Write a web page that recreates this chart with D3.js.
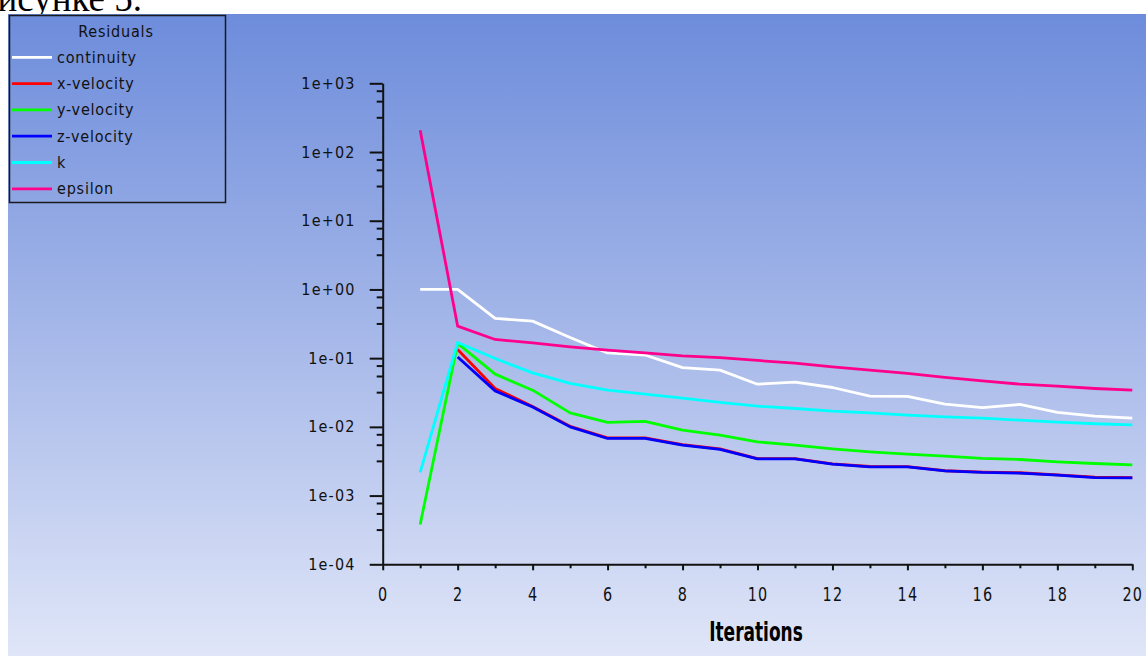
<!DOCTYPE html>
<html lang="ru">
<head>
    <meta charset="UTF-8">
    <title>Residuals</title>
    <script src="https://cdnjs.cloudflare.com/ajax/libs/d3/7.8.5/d3.min.js"></script>
<style>
    body { margin: 0; background: #ffffff; }
    svg { display: block; }
    .narrow { font-family: "Liberation Sans Narrow", "Arial Narrow", "DejaVu Sans Condensed", sans-serif; }
</style>
</head>
<body>
<div id="chart"></div>
<script>

    var width = 1146,
        height = 657;

    // iteration numbers on the x axis
    var iterations = [1,2,3,4,5,6,7,8,9,10,11,12,13,14,15,16,17,18,19,20];

    // residual values (null = not drawn)
    var continuity = [1.0, 1.0, 0.378, 0.346, 0.200, 0.119, 0.111, 0.073, 0.0669, 0.0418,
        0.0448, 0.0374, 0.028, 0.0277, 0.0214, 0.0191, 0.0212, 0.0162, 0.0143, 0.0134];
    var xVelocity = [null, 0.134, 0.0362, 0.0198, 0.0102, 0.0069, 0.0069, 0.0055, 0.0048, 0.00346,
        0.00346, 0.0029, 0.00265, 0.00264, 0.0023, 0.0022, 0.00215, 0.002, 0.00185, 0.00182];
    var yVelocity = [0.00038, 0.164, 0.0585, 0.0342, 0.016, 0.0116, 0.012, 0.00895, 0.00757, 0.00605,
        0.00542, 0.00479, 0.00433, 0.00401, 0.00375, 0.00347, 0.00335, 0.0031, 0.00293, 0.0028];
    var zVelocity = [null, 0.104, 0.0334, 0.0195, 0.0100, 0.00678, 0.00678, 0.00542, 0.00469, 0.00342,
        0.00342, 0.00286, 0.00262, 0.00262, 0.00229, 0.00217, 0.00212, 0.00198, 0.00183, 0.00181];
    var kRes = [0.00217, 0.169, 0.099, 0.061, 0.0429, 0.0342, 0.0299, 0.0262, 0.0227, 0.02,
        0.0185, 0.0169, 0.016, 0.0148, 0.014, 0.0134, 0.0125, 0.0117, 0.0111, 0.0107];
    var epsilon = [208, 0.292, 0.187, 0.167, 0.146, 0.131, 0.119, 0.108, 0.102, 0.0926,
        0.0845, 0.0747, 0.0669, 0.0599, 0.0524, 0.0468, 0.0418, 0.0391, 0.0362, 0.0342];

    var seriesNames = ["continuity", "x-velocity", "y-velocity", "z-velocity", "k", "epsilon"];
    var seriesColors = ["#ffffff", "#ff0000", "#00ff00", "#0000ff", "#00ffff", "#ff008c"];
    var seriesValues = [continuity, xVelocity, yVelocity, zVelocity, kRes, epsilon];

    // tick values and labels
    var yMajor = [1e-4, 1e-3, 1e-2, 1e-1, 1, 10, 100, 1000];
    var yLabels = ["1e-04", "1e-03", "1e-02", "1e-01", "1e+00", "1e+01", "1e+02", "1e+03"];
    var yMinorFactors = [0.78, 0.55, 0.32];
    var xMajor = [0, 2, 4, 6, 8, 10, 12, 14, 16, 18, 20];
    var xMinor = [1, 3, 5, 7, 9, 11, 13, 15, 17, 19];

    var svg = d3.select("#chart")
        .append("svg")
        .attr("width", width)
        .attr("height", height);

    // caption text of the page above, mostly hidden
    svg.append("text")
        .attr("x", -21)
        .attr("y", 11)
        .style("font-family", "'Liberation Serif', 'Times New Roman', serif")
        .style("font-size", "37px")
        .attr("fill", "#000")
        .text("рисунке 5.");

    // background gradient
    var defs = svg.append("defs");
    var grad = defs.append("linearGradient")
        .attr("id", "bg")
        .attr("x1", 0).attr("y1", 0)
        .attr("x2", 0).attr("y2", 1);
    grad.append("stop").attr("offset", "0%").attr("stop-color", "#6d8cdb");
    grad.append("stop").attr("offset", "50%").attr("stop-color", "#a6b8e9");
    grad.append("stop").attr("offset", "100%").attr("stop-color", "#e0e6f8");

    svg.append("rect")
        .attr("x", 8)
        .attr("y", 14)
        .attr("width", width - 8)
        .attr("height", height - 15)
        .attr("fill", "url(#bg)");

    var x = d3.scaleLinear().domain([0, 20]).range([382.7, 1132.3]);
    var y = d3.scaleLog().domain([1e-4, 1e3]).range([564.3, 83.3]);

    var yMinor = [];
    yMajor.forEach(function(m) {
        if (m > 1e-4) {
            yMinorFactors.forEach(function(f) { yMinor.push(m * f); });
        }
    });

    // y axis
    var yAxisG = svg.append("g")
        .attr("class", "narrow")
        .attr("transform", "translate(" + x(0) + ",0)")
        .call(d3.axisLeft(y)
            .tickValues(yMajor)
            .tickSize(13)
            .tickSizeOuter(0)
            .tickPadding(14)
            .tickFormat(function(d, i) { return yLabels[i]; }));

    svg.append("g")
        .attr("transform", "translate(" + x(0) + ",0)")
        .call(d3.axisLeft(y)
            .tickValues(yMinor)
            .tickSize(6)
            .tickSizeOuter(0)
            .tickFormat(""))
        .select(".domain").remove();

    // x axis
    var xAxisG = svg.append("g")
        .attr("class", "narrow")
        .attr("transform", "translate(0," + y(1e-4) + ")")
        .call(d3.axisBottom(x)
            .tickValues(xMajor)
            .tickSize(6)
            .tickSizeOuter(0)
            .tickPadding(17));

    svg.append("g")
        .attr("transform", "translate(0," + y(1e-4) + ")")
        .call(d3.axisBottom(x)
            .tickValues(xMinor)
            .tickSize(4)
            .tickSizeOuter(0)
            .tickFormat(""))
        .select(".domain").remove();

    svg.selectAll(".domain, .tick line")
        .attr("stroke", "#111")
        .attr("stroke-width", 2);

    yAxisG.selectAll("text")
        .attr("fill", "#111")
        .style("font-size", "16px")
        .style("letter-spacing", "1.2px");

    // narrow, tall digits like the solver's plot font
    xAxisG.selectAll("text")
        .attr("fill", "#111")
        .attr("transform", "scale(0.8,1)")
        .style("font-size", "20px")
        .style("letter-spacing", "1.5px");

    svg.append("text")
        .attr("class", "narrow")
        .attr("transform", "translate(756,641) scale(0.7,1)")
        .attr("text-anchor", "middle")
        .style("font-size", "27px")
        .style("font-weight", "bold")
        .attr("fill", "#000")
        .text("Iterations");

    // residual lines
    var line = d3.line()
        .defined(function(d) { return d != null; })
        .x(function(d, i) { return x(iterations[i]); })
        .y(function(d) { return y(d); });

    svg.selectAll(".res")
        .data(seriesValues)
        .enter()
        .append("path")
        .attr("class", "res")
        .attr("d", line)
        .attr("fill", "none")
        .attr("stroke", function(d, i) { return seriesColors[i]; })
        .attr("stroke-width", 2.8)
        .attr("stroke-linejoin", "round");

    // legend
    var legend = svg.append("g").attr("class", "narrow");

    legend.append("rect")
        .attr("x", 9.5)
        .attr("y", 15.5)
        .attr("width", 216)
        .attr("height", 187)
        .attr("fill", "none")
        .attr("stroke", "#1a1a1a")
        .attr("stroke-width", 1.5);

    legend.append("text")
        .attr("x", 116)
        .attr("y", 37)
        .attr("text-anchor", "middle")
        .style("font-size", "16px")
        .style("letter-spacing", "0.8px")
        .attr("fill", "#111")
        .text("Residuals");

    var items = legend.selectAll(".item")
        .data(seriesNames)
        .enter()
        .append("g")
        .attr("class", "item")
        .attr("transform", function(d, i) { return "translate(0," + (57.3 + i * 26.3) + ")"; });

    items.append("line")
        .attr("x1", 12)
        .attr("x2", 52)
        .attr("stroke", function(d, i) { return seriesColors[i]; })
        .attr("stroke-width", 2.8);

    items.append("text")
        .attr("x", 57)
        .attr("y", 5.5)
        .style("font-size", "16px")
        .style("letter-spacing", "0.8px")
        .attr("fill", "#111")
        .text(function(d) { return d; });

</script>
</body>
</html>
